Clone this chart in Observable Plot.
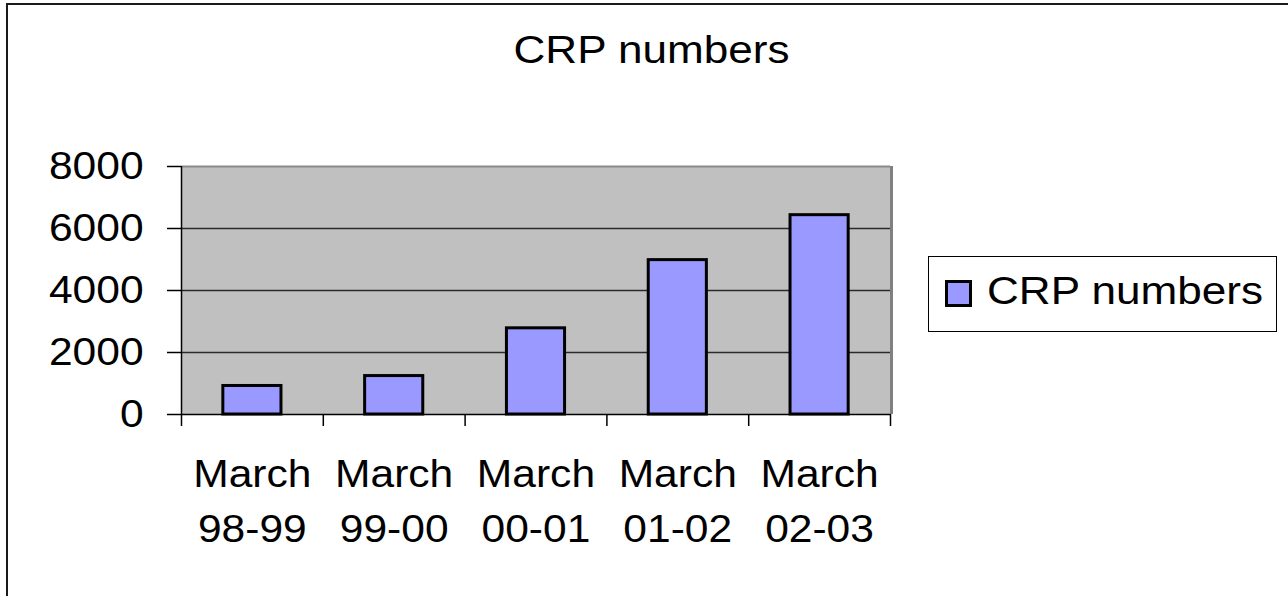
<!DOCTYPE html>
<html>
<head>
<meta charset="utf-8">
<script src="https://cdn.jsdelivr.net/npm/d3@7"></script>
<script src="https://cdn.jsdelivr.net/npm/@observablehq/plot@0.6"></script>
<style>
  html, body { margin: 0; padding: 0; background: #fff; overflow: hidden; }
  #wrap { position: relative; width: 1288px; height: 596px; font-family: "Liberation Sans", Arial, sans-serif; }
  #frame { position: absolute; left: 6px; top: 3px; width: 1400px; height: 700px; border-top: 2px solid #1a1a1a; border-left: 2px solid #1a1a1a; box-sizing: border-box; }
  #title { position: absolute; left: 0; top: 31px; width: 1303px; text-align: center; font-size: 38px; line-height: 39px; color: #000; transform: scaleX(1.16); transform-origin: 651.5px 50%; }
  #legend { position: absolute; left: 928px; top: 256px; width: 349px; height: 76px; border: 1px solid #000; box-sizing: border-box; background: #fff; }
  #swatch { position: absolute; left: 945px; top: 280px; width: 27px; height: 27px; border: 3px solid #000; box-sizing: border-box; background: #9999ff; }
  #legtext { position: absolute; left: 987px; top: 272px; font-size: 38px; line-height: 39px; color: #000; white-space: nowrap; transform: scaleX(1.16); transform-origin: 0 50%; }
  svg { position: absolute; left: 0; top: 0; }
</style>
</head>
<body>
<div id="wrap">
  <div id="frame"></div>
  <div id="chart"></div>
  <div id="title"></div>
  <div id="legend"></div>
  <div id="swatch"></div>
  <div id="legtext"></div>
</div>
<script>
const titleText = "CRP numbers";
const seriesName = "CRP numbers";
const categories = ["March\n98-99", "March\n99-00", "March\n00-01", "March\n01-02", "March\n02-03"];
const values = [920, 1240, 2780, 4980, 6430];
const yTicks = [0, 2000, 4000, 6000, 8000];
const gridValues = [2000, 4000, 6000];

document.getElementById("title").textContent = titleText;
document.getElementById("legtext").textContent = seriesName;

const data = categories.map((c, i) => ({index: i, category: c, value: values[i]}));
const boundaries = d3.range(categories.length + 1);
const centers = categories.map((c, i) => i + 0.5);

const chart = Plot.plot({
  width: 1288,
  height: 596,
  marginLeft: 181,
  marginRight: 398,
  marginTop: 166,
  marginBottom: 182,
  style: {
    fontFamily: "'Liberation Sans', Arial, sans-serif",
    fontSize: "38px",
    color: "#000",
    background: "transparent",
    overflow: "visible"
  },
  x: {type: "linear", domain: [0, categories.length], label: null},
  y: {domain: [0, 8000], label: null},
  marks: [
    Plot.frame({fill: "#c0c0c0", stroke: null}),
    Plot.ruleY(gridValues, {stroke: "#2a2a2a", strokeWidth: 1.5}),
    Plot.ruleY([8000], {stroke: "#8a8a8a", strokeWidth: 2}),
    Plot.ruleX([categories.length], {stroke: "#808080", strokeWidth: 3, dx: 1}),
    Plot.rectY(data, {
      x1: d => d.index + 0.295,
      x2: d => d.index + 0.705,
      y1: 0,
      y2: "value",
      fill: "#9999ff",
      stroke: "#000",
      strokeWidth: 3
    }),
    Plot.ruleX([0], {stroke: "#000", strokeWidth: 1.5}),
    Plot.ruleY([0], {stroke: "#000", strokeWidth: 1.5}),
    Plot.axisY({ticks: yTicks, label: null, tickSize: 14, tickPadding: 29, tickFormat: d => String(d), stroke: "#000", strokeWidth: 1.5, strokeOpacity: 1}),
    Plot.axisX({ticks: boundaries, label: null, tickSize: 12, tickFormat: () => "", stroke: "#000", strokeWidth: 1.5, strokeOpacity: 1}),
    Plot.axisX({ticks: centers, label: null, tickSize: 0, tickPadding: 33, lineHeight: 1.46, tickFormat: d => categories[Math.floor(d)]})
  ]
});
document.getElementById("chart").appendChild(chart);

// widen glyphs horizontally (around each label's own anchor) to match the reference's lettering
const svgBox = chart.getBoundingClientRect();
d3.select(chart).selectAll("text").each(function() {
  if (!this.textContent) return;
  const r = this.getBoundingClientRect();
  const anchor = getComputedStyle(this).textAnchor;
  const ax = (anchor === "end" ? r.right : anchor === "start" ? r.left : (r.left + r.right) / 2) - svgBox.left;
  const g = document.createElementNS("http://www.w3.org/2000/svg", "g");
  g.setAttribute("transform", `translate(${ax},0) scale(1.12,1) translate(${-ax},0)`);
  this.parentNode.insertBefore(g, this);
  g.appendChild(this);
});
</script>
</body>
</html>
